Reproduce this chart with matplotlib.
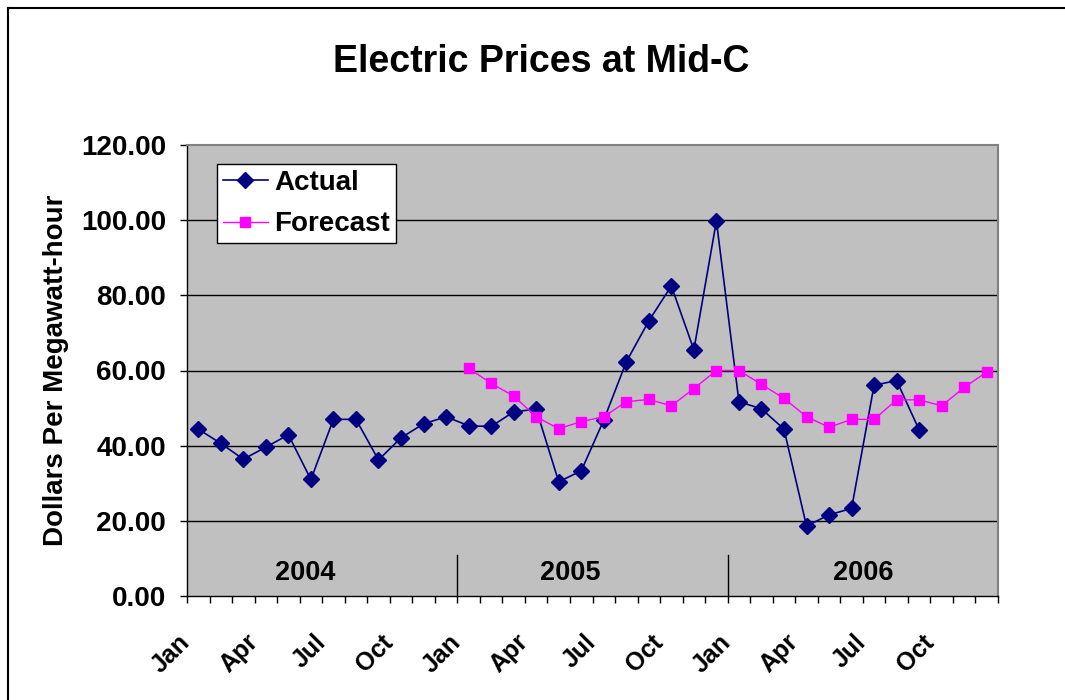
import numpy as np
import matplotlib
matplotlib.use("Agg")
import matplotlib.pyplot as plt
from matplotlib.lines import Line2D
from matplotlib.transforms import blended_transform_factory, ScaledTranslation

plt.rcParams['font.family'] = ['Liberation Sans', 'DejaVu Sans']
plt.rcParams['font.weight'] = 'bold'

months = ['Jan', 'Feb', 'Mar', 'Apr', 'May', 'Jun', 'Jul', 'Aug', 'Sep', 'Oct', 'Nov', 'Dec'] * 3
years = ['2004', '2005', '2006']
nan = np.nan
actual = [44.4, 40.6, 36.4, 39.6, 42.9, 31.0, 47.0, 47.0, 36.2, 42.1, 45.8, 47.7,
          45.3, 45.1, 49.0, 49.7, 30.4, 33.3, 46.8, 62.3, 73.2, 82.5, 65.5, 99.8,
          51.7, 49.8, 44.4, 18.6, 21.6, 23.3, 56.1, 57.3, 44.2, nan, nan, nan]
forecast = [nan] * 12 + [60.6, 56.6, 53.2, 47.7, 44.5, 46.4, 47.7, 51.7, 52.3, 50.6, 55.2, 60.0,
                         60.0, 56.3, 52.6, 47.7, 44.9, 47.0, 47.0, 52.2, 52.2, 50.6, 55.5, 59.6]
yticks = [0, 20, 40, 60, 80, 100, 120]

W, H = 1065, 700
fig = plt.figure(figsize=(W / 100, H / 100), dpi=100)
fig.patch.set_facecolor('white')
ax = fig.add_axes([187 / W, 1 - 596 / H, 811 / W, 451 / H])
ax.set_facecolor('#C0C0C0')

x = np.arange(len(months))
ax.set_xlim(-0.5, len(months) - 0.5)
ax.set_ylim(0, 120)

for v in yticks[1:-1]:
    ax.axhline(v, color='black', lw=1.0, zorder=1)

ax.plot(x, actual, color='#000080', lw=1.2, marker='D', markersize=8,
        markerfacecolor='#000080', markeredgecolor='#000080', label='Actual', zorder=3)
ax.plot(x, forecast, color='#FF00FF', lw=1.0, marker='s', markersize=7.5,
        markerfacecolor='#FF00FF', markeredgecolor='#FF00FF', label='Forecast', zorder=4)

for s in ['top', 'right']:
    ax.spines[s].set_color('#808080')
    ax.spines[s].set_linewidth(1.5)
for s in ['left', 'bottom']:
    ax.spines[s].set_color('black')
    ax.spines[s].set_linewidth(1.0)

ax.set_yticks(yticks)
ax.set_yticklabels([f'{v:.2f}' for v in yticks], fontsize=20, fontweight='bold')
ax.tick_params(axis='y', direction='out', length=5, width=1, pad=10, colors='black')

bounds = np.arange(len(months) + 1) - 0.5
ax.set_xticks(bounds)
ax.set_xticklabels([])
ax.tick_params(axis='x', direction='out', length=5, width=1, colors='black')

# month labels every 3 months
trans = blended_transform_factory(ax.transData, ax.transAxes)
for i in range(0, len(months), 3):
    off = ScaledTranslation(-9 / 100, -34 / 100, fig.dpi_scale_trans)
    ax.text(bounds[i], 0, months[i], transform=trans + off, rotation=45,
            rotation_mode='anchor', ha='right', va='top', fontsize=18,
            fontweight='bold', clip_on=False)

# year separators and labels
for k in range(1, len(years)):
    xb = bounds[12 * k]
    ax.plot([xb, xb], [0, 11], color='black', lw=1.0, zorder=2, clip_on=False)
year_pos = [4.75, 16.5, 29.5]
for yp, yr in zip(year_pos, years):
    ax.text(yp, 6, yr, ha='center', va='center', fontsize=19.5, fontweight='bold', zorder=2)

ax.set_ylabel('Dollars Per Megawatt-hour', fontsize=20, fontweight='bold', labelpad=9)
fig.text(541 / W, 1 - 62 / H, 'Electric Prices at Mid-C', ha='center', va='center',
         fontsize=27, fontweight='bold')

leg = ax.legend(loc='upper left', bbox_to_anchor=(0.037, 0.958), borderaxespad=0,
                frameon=True, fancybox=False, fontsize=20, handlelength=1.6,
                borderpad=0.22, labelspacing=0.55, handletextpad=0.25)
leg.get_frame().set_edgecolor('black')
leg.get_frame().set_linewidth(1.0)
leg.get_frame().set_facecolor('white')
leg.get_frame().set_alpha(1)
for t in leg.get_texts():
    t.set_fontweight('bold')

# outer chart border (left and top visible)
fig.add_artist(Line2D([8 / W, 8 / W], [0, 1 - 8 / H], color='black', lw=1.5, transform=fig.transFigure))
fig.add_artist(Line2D([8 / W, 1], [1 - 8 / H, 1 - 8 / H], color='black', lw=1.5, transform=fig.transFigure))

fig.savefig('out.png', dpi=100)
